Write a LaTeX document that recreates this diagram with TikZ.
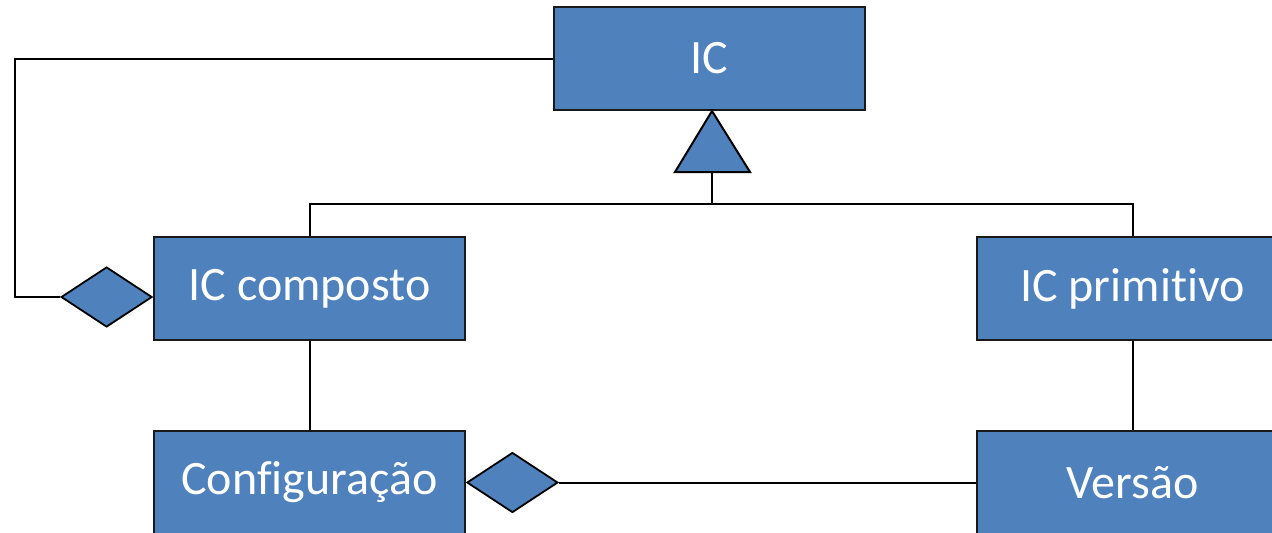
\documentclass[tikz,border=0pt]{standalone}
\usepackage{fontspec}
\setmainfont{Carlito}[Ligatures={NoCommon}]
\usetikzlibrary{shapes.geometric,positioning,calc}
\definecolor{icblue}{RGB}{79,129,189}
\definecolor{icedge}{RGB}{25,25,25}
\tikzset{
  classbox/.style={draw=icedge, fill=icblue, line width=1pt, text=white,
    minimum width=155.5pt, minimum height=51.5pt, inner sep=0pt,
    font=\fontsize{24}{29}\selectfont},
  aggr/.style={diamond, draw=black, fill=icblue, line width=0.9pt,
    minimum width=45.5pt, minimum height=30pt, inner sep=0pt},
  link/.style={draw=black, line width=1pt}
}

\begin{document}
\begin{tikzpicture}[x=0.5pt,y=-0.5pt]
    \useasboundingbox (0,0) rectangle (1272,532);
    \clip (0,0) rectangle (1272,532);
    % classes
    \node[classbox] (IC) at (709,58.5) {IC};
    \node[classbox] (composto) at (309.5,288.5) {IC composto};
    \node[classbox] (primitivo) at (1132.5,288.5) {IC primit\kern0pt ivo};
    \node[classbox] (config) at (309.5,482.5) {Conf\kern0pt iguração};
    \node[classbox] (versao) at (1132.5,482.5) {Versão};
    % aggregation
    \node[aggr, anchor=east] (dcomp) at ($(composto.west)+(0,8.5)$) {};
    \node[aggr, anchor=west] (dconf) at (config.east) {};
    \draw[link] (IC.west) -- (15,58.5) |- (dcomp.west);
    \draw[link] (dconf.east) -- (versao.west);
    % generalisation
    \coordinate (genapex) at ($(IC.south)+(3,0)$);
    \draw[link, fill=icblue] (genapex) -- ++(38,61) -- ++(-75,0) -- cycle;
    \coordinate (genbase) at ($(genapex)+(0,61)$);
    \draw[link] (genbase) -- ++(0,32) coordinate (bus);
    \draw[link] (composto.north) |- (bus) -| (primitivo.north);
    % associations
    \draw[link] (composto) -- (config);
    \draw[link] (primitivo) -- (versao);
\end{tikzpicture}
\end{document}
